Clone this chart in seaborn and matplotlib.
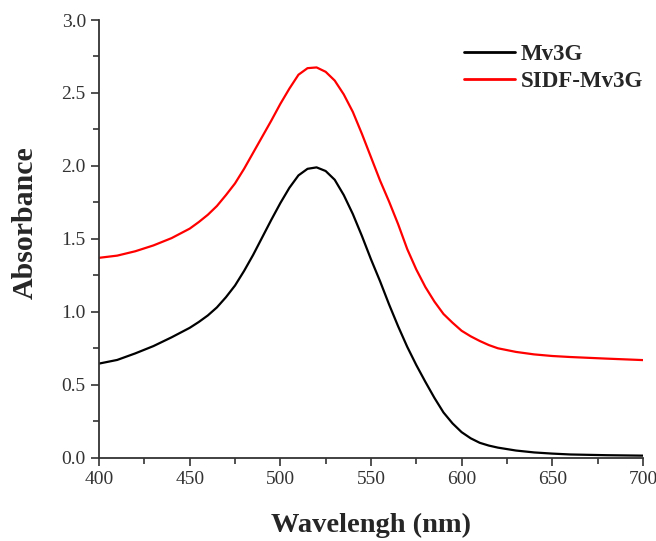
import numpy as np
import pandas as pd
import matplotlib
matplotlib.use("Agg")
import matplotlib.pyplot as plt
from matplotlib.ticker import MultipleLocator, FormatStrFormatter
import seaborn as sns

# --- data ---
wavelength = [400, 410, 420, 430, 440, 450, 455, 460, 465, 470, 475, 480, 485, 490,
              495, 500, 505, 510, 515, 520, 525, 530, 535, 540, 545, 550, 555, 560,
              565, 570, 575, 580, 585, 590, 595, 600, 605, 610, 615, 620, 630, 640,
              650, 660, 680, 700]
mv3g = [0.645, 0.67, 0.715, 0.765, 0.825, 0.89, 0.93, 0.975, 1.03, 1.10, 1.18, 1.28, 1.39, 1.51,
        1.63, 1.745, 1.85, 1.935, 1.98, 1.99, 1.965, 1.905, 1.80, 1.67, 1.52, 1.36, 1.21, 1.05,
        0.90, 0.76, 0.635, 0.52, 0.41, 0.31, 0.235, 0.175, 0.133, 0.102, 0.083, 0.069, 0.049, 0.036,
        0.028, 0.022, 0.017, 0.014]
sidf_mv3g = [1.37, 1.385, 1.415, 1.455, 1.505, 1.57, 1.615, 1.665, 1.725, 1.80, 1.88, 1.98, 2.09, 2.20,
             2.31, 2.425, 2.53, 2.625, 2.67, 2.675, 2.645, 2.585, 2.49, 2.37, 2.22, 2.06, 1.90, 1.755,
             1.60, 1.43, 1.29, 1.17, 1.07, 0.985, 0.925, 0.87, 0.832, 0.80, 0.772, 0.75, 0.725, 0.708,
             0.697, 0.69, 0.679, 0.669]
series_names = ["Mv3G", "SIDF-Mv3G"]

df = pd.concat([
    pd.DataFrame({"Wavelength": wavelength, "Absorbance": mv3g, "Sample": series_names[0]}),
    pd.DataFrame({"Wavelength": wavelength, "Absorbance": sidf_mv3g, "Sample": series_names[1]}),
])

sns.set_style("ticks")
plt.rcParams['font.family'] = ['Liberation Serif', 'DejaVu Serif']

fig = plt.figure(figsize=(6.56, 5.41), dpi=100)
ax = fig.add_axes([0.151, 0.154, 0.829, 0.809])

sns.lineplot(data=df, x="Wavelength", y="Absorbance", hue="Sample",
             palette={"Mv3G": "black", "SIDF-Mv3G": "#ff0000"},
             linewidth=1.6, ax=ax)

ax.set_xlim(400, 700)
ax.set_ylim(0, 3.0)
ax.xaxis.set_major_locator(MultipleLocator(50))
ax.xaxis.set_minor_locator(MultipleLocator(25))
ax.yaxis.set_major_locator(MultipleLocator(0.5))
ax.yaxis.set_minor_locator(MultipleLocator(0.25))
ax.yaxis.set_major_formatter(FormatStrFormatter('%.1f'))
ax.tick_params(which='major', direction='out', length=6, width=1.2, labelsize=14,
               labelcolor='#333333', color='#333333')
ax.tick_params(which='minor', direction='out', length=4, width=1.2, color='#333333')

sns.despine(ax=ax)
for s in ['left', 'bottom']:
    ax.spines[s].set_linewidth(1.3)
    ax.spines[s].set_color('#333333')

ax.set_xlabel("Wavelengh (nm)", fontsize=20.5, fontweight='bold', labelpad=18)
ax.set_ylabel("Absorbance", fontsize=21.5, fontweight='bold')
ax.yaxis.set_label_coords(-0.11, 0.538)

leg = ax.legend(loc='upper right', bbox_to_anchor=(1.0, 0.946), frameon=False,
                prop={'family': 'Liberation Serif', 'weight': 'bold', 'size': 16.5},
                handlelength=2.2, handletextpad=0.25, labelspacing=0.27,
                borderaxespad=0, borderpad=0)
for line in leg.get_lines():
    line.set_linewidth(2.0)

fig.savefig("out.png", dpi=100)
